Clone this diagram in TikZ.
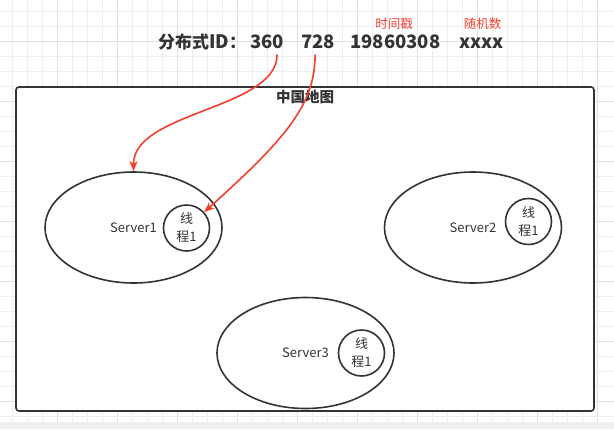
\documentclass[tikz,border=0pt]{standalone}
\usepackage{fontspec}
\setmainfont{Noto Sans CJK SC}
\usetikzlibrary{shapes.geometric,arrows.meta}
\definecolor{ink}{HTML}{333333}
\definecolor{idred}{HTML}{F2402F}
\definecolor{gridminor}{HTML}{EEEEEE}
\definecolor{gridmajor}{HTML}{E0E0E0}
\definecolor{band}{HTML}{F0F0F0}
\begin{document}
\begin{tikzpicture}[x=1pt,y=-1pt]
            \tikzstyle{every node}=[inner sep=0pt,text=ink]
            \tikzstyle{server}=[ellipse,draw=ink,line width=1.6pt,minimum width=177pt,minimum height=111pt,font=\fontsize{13}{15}\selectfont]
            \tikzstyle{thread}=[circle,draw=ink,line width=1.6pt,minimum size=46pt,align=center,font=\fontsize{13}{18}\selectfont]
            \tikzstyle{idpart}=[anchor=base west,font=\fontsize{18.5}{22}\selectfont\bfseries]
            \tikzstyle{note}=[text=idred,font=\fontsize{12.5}{14}\selectfont]
            \tikzstyle{pointer}=[draw=idred,line width=1.6pt,-{Stealth[length=10pt,width=8pt,inset=2.5pt]}]
            \useasboundingbox (0,0) rectangle (614,429);
            \fill[white] (0,0) rectangle (614,429);
            \fill[band] (0,421.7) rectangle (614,429);
            \foreach \x in {12.7,27.7,...,612} \draw[gridminor,line width=1pt] (\x,0) -- (\x,421.7);
            \foreach \y in {11,26,...,420} \draw[gridminor,line width=1pt] (0,\y) -- (614,\y);
            \foreach \x in {57.7,117.7,...,612} \draw[gridmajor,line width=1pt] (\x,0) -- (\x,421.7);
            \foreach \y in {41,101,...,420} \draw[gridmajor,line width=1pt] (0,\y) -- (614,\y);
            \draw (305,249) node [draw=ink,fill=white,line width=1.6pt,rounded corners=3pt,minimum width=578pt,minimum height=324pt] (map) {};
            \draw (305,97) node [font=\fontsize{14.5}{16}\selectfont\bfseries] (maptitle) {中国地图};
            \draw (158,48) node [idpart,font=\fontsize{17}{20}\selectfont\bfseries] (idhead) {分布式{\fontsize{18.5}{22}\selectfont ID}：};
            \draw (250,48) node [idpart] (n360) {360};
            \draw (301,48) node [idpart] (n728) {728};
            \draw (350,48) node [idpart] (date) {19860308};
            \draw (459,48) node [idpart] (rand) {xxxx};
            \draw (394,24) node [note] (datenote) {时间戳};
            \draw (482.5,24) node [note] (randnote) {随机数};
            \draw (133.5,227.5) node [server] (s1) {Server1};
            \draw (473,227.5) node [server] (s2) {Server2};
            \draw (305.5,353) node [server] (s3) {Server3};
            \draw (186.5,228) node [thread] (t1) {线\\程1};
            \draw (528.5,221.5) node [thread] (t2) {线\\程1};
            \draw (361.5,353) node [thread] (t3) {线\\程1};
            \draw[pointer] ([xshift=10pt,yshift=-6pt]n360.south) .. controls +(0,55) and +(0,-60) .. (s1.north);
            \draw[pointer] ([xshift=-3pt,yshift=-6pt]n728.south) .. controls +(0,50) and +(100,-90) .. (t1);
        \end{tikzpicture}
\end{document}
